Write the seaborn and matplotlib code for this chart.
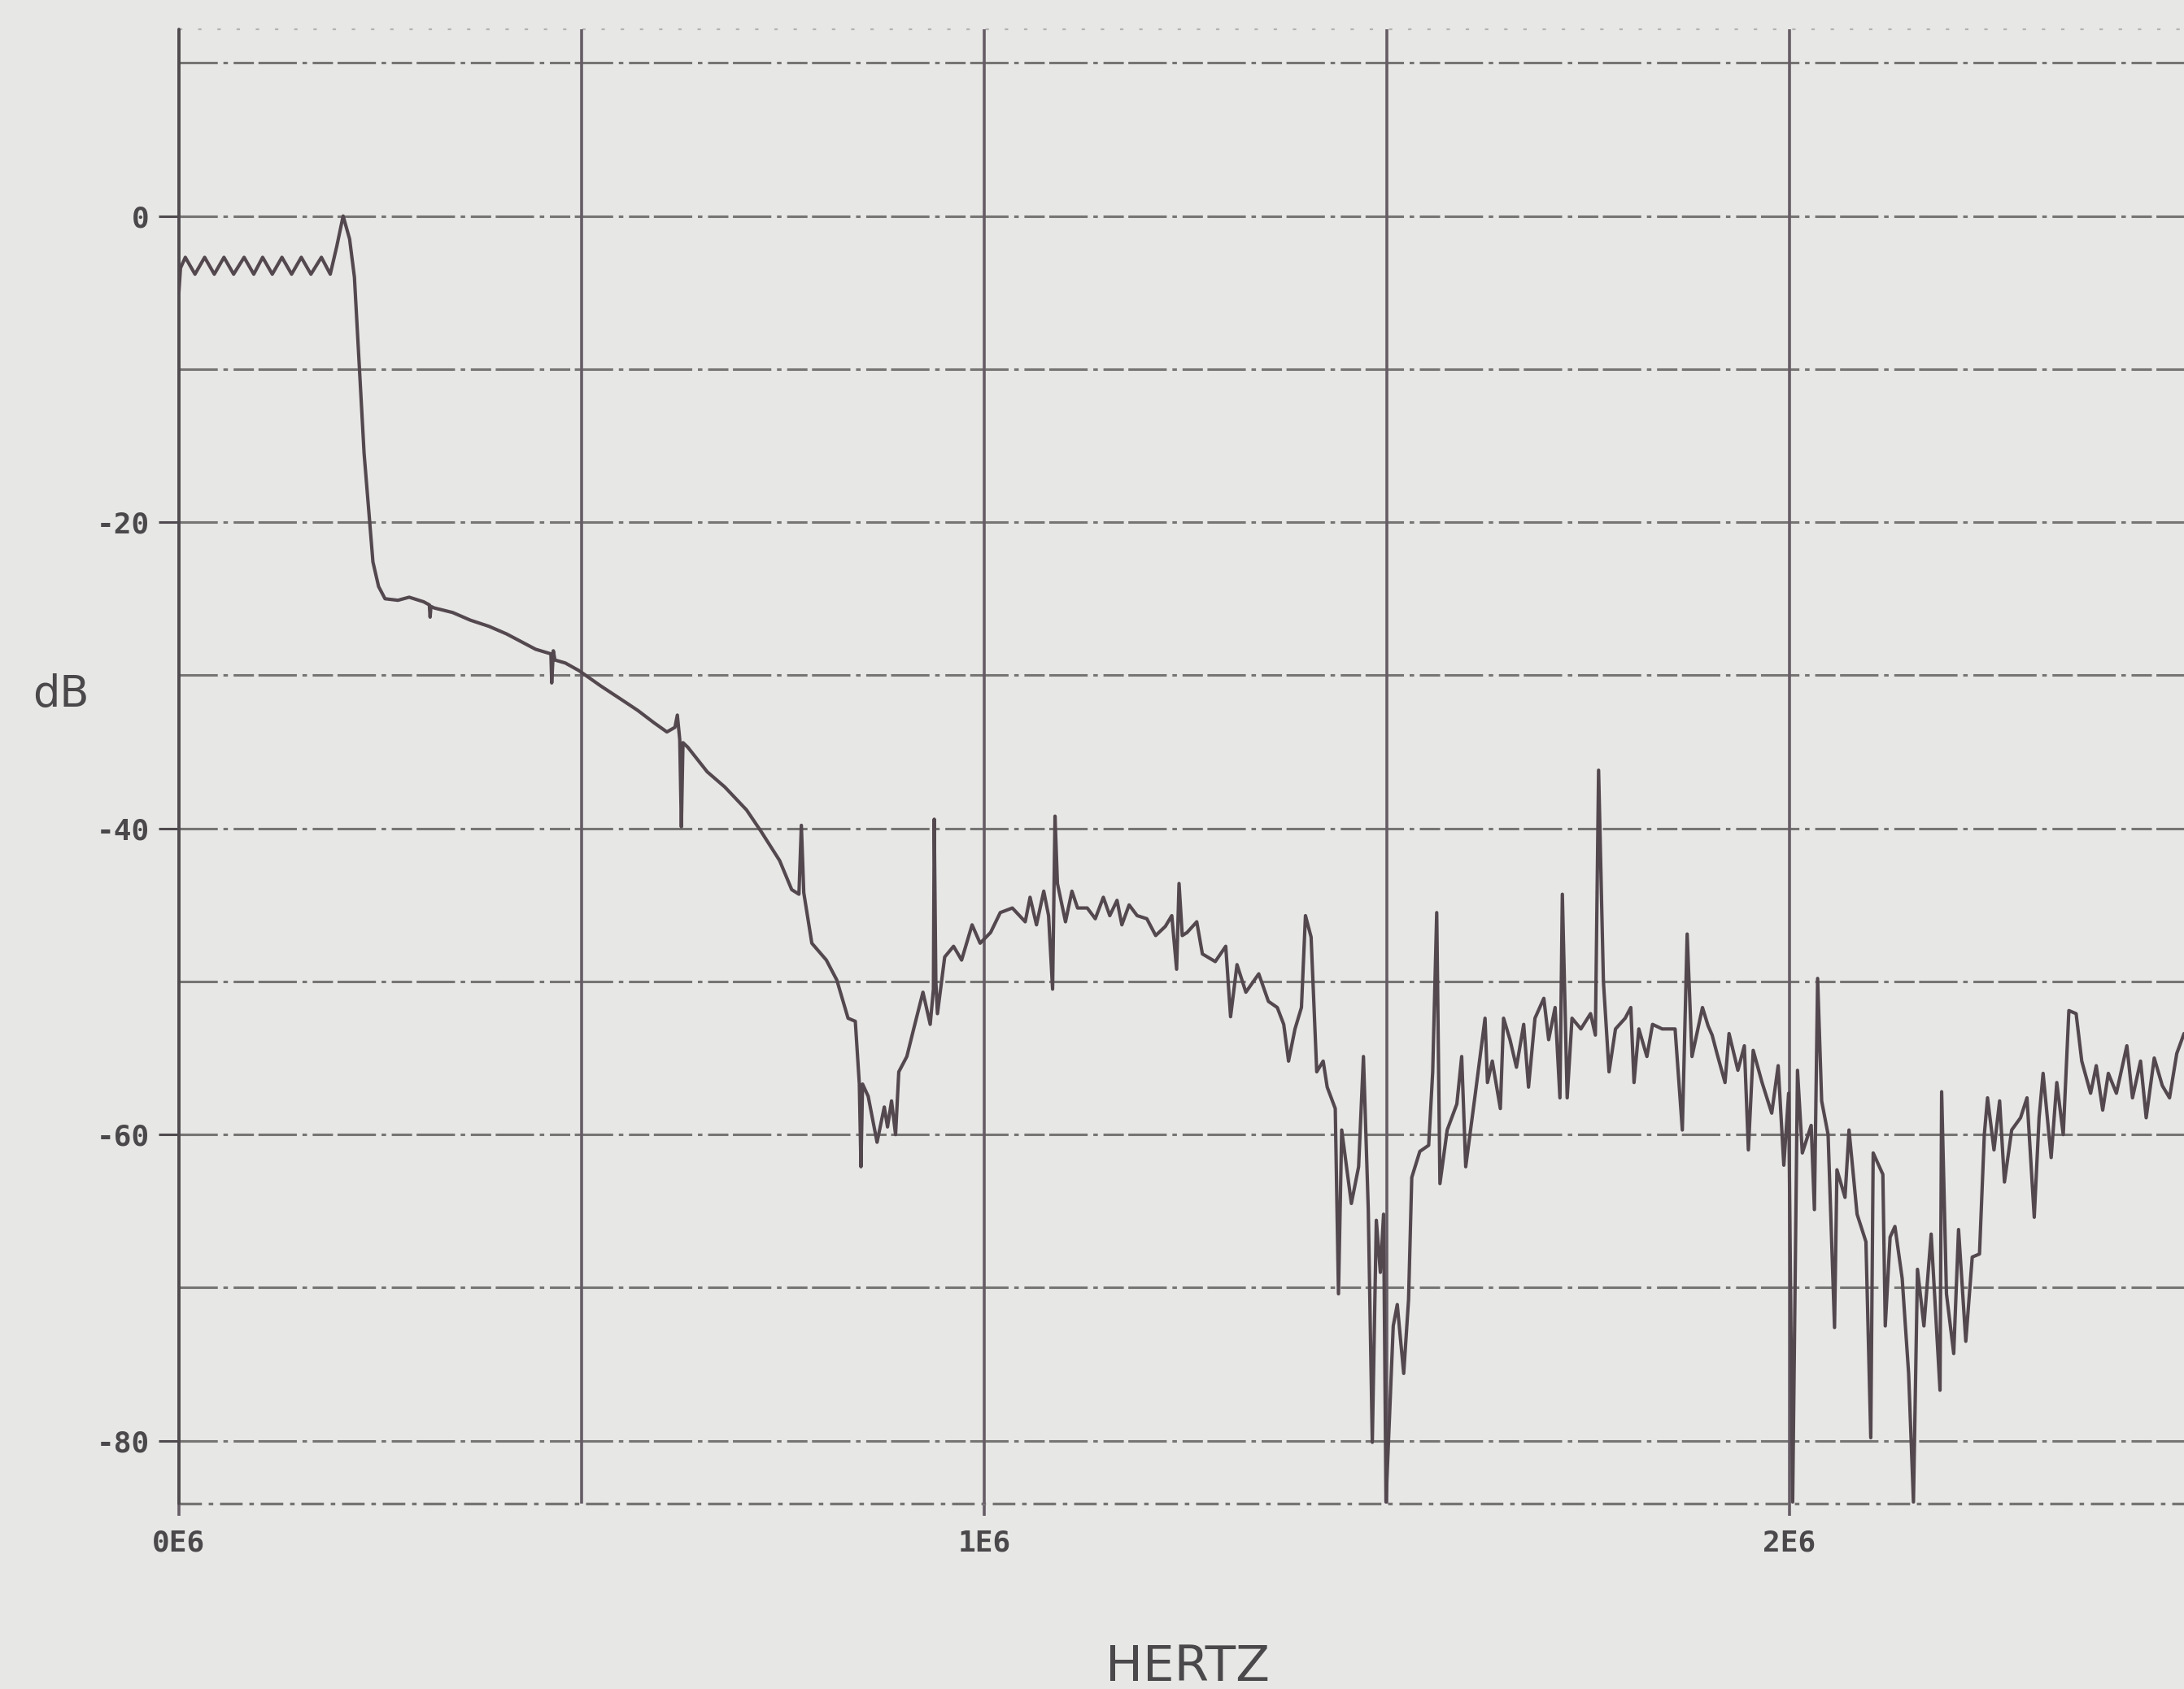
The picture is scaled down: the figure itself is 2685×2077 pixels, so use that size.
"""
Filter response plot: level in dB against frequency (HERTZ), old plotter look.
"""
import matplotlib
matplotlib.use("Agg")
import matplotlib.pyplot as plt
import numpy as np
import pandas as pd
import seaborn as sns

# ---- data: frequency in MHz (0E6..2E6), level in dB ----
PASSBAND_F = [0.000, 0.002, 0.008, 0.020, 0.032, 0.044, 0.056, 0.068, 0.081,
              0.093, 0.104, 0.116, 0.128, 0.140, 0.152, 0.164, 0.177, 0.188,
              0.196, 0.204, 0.212, 0.218, 0.225, 0.230, 0.237, 0.241, 0.248,
              0.256, 0.272]
PASSBAND_DB = [-5.0, -3.4, -2.7, -3.8, -2.7, -3.8, -2.7, -3.8, -2.7,
               -3.8, -2.7, -3.8, -2.7, -3.8, -2.7, -3.8, -2.7, -3.8,
               -2.0, 0.0, -1.5, -4.0, -10.7, -15.5, -20.0, -22.6, -24.2,
               -25.0, -25.1]

SKIRT_F = [0.286, 0.304, 0.311, 0.312, 0.313, 0.317, 0.340, 0.362, 0.385,
           0.407, 0.425, 0.443, 0.462, 0.463, 0.465, 0.467, 0.480, 0.497,
           0.524, 0.550, 0.570, 0.590, 0.606, 0.616, 0.619, 0.622, 0.624,
           0.626, 0.632, 0.656, 0.678, 0.705, 0.723, 0.746, 0.761, 0.770,
           0.773, 0.776, 0.786, 0.804, 0.817, 0.831, 0.840, 0.845, 0.847,
           0.849, 0.856, 0.867, 0.876, 0.880, 0.885, 0.890, 0.894]
SKIRT_DB = [-24.9, -25.2, -25.4, -26.2, -25.5, -25.6, -25.9, -26.4, -26.8,
            -27.3, -27.8, -28.3, -28.6, -30.5, -28.4, -29.0, -29.2, -29.7,
            -30.7, -31.6, -32.3, -33.1, -33.7, -33.4, -32.6, -34.2, -39.9,
            -34.4, -34.7, -36.3, -37.3, -38.8, -40.2, -42.1, -44.0, -44.3,
            -39.8, -44.2, -47.5, -48.6, -49.9, -52.4, -52.6, -56.7, -62.1,
            -56.7, -57.5, -60.5, -58.2, -59.5, -57.8, -60.0, -55.9]

LOBE1_F = [0.904, 0.912, 0.924, 0.933, 0.937, 0.938, 0.940, 0.942, 0.951,
           0.962, 0.972, 0.985, 0.995, 1.008, 1.020, 1.035, 1.051, 1.057,
           1.065, 1.074, 1.080, 1.085, 1.088, 1.091, 1.101, 1.109, 1.116,
           1.128, 1.138, 1.148, 1.156, 1.165, 1.171, 1.180, 1.190, 1.202,
           1.213, 1.225, 1.233, 1.239, 1.242, 1.246, 1.252, 1.264, 1.271,
           1.287, 1.300, 1.306, 1.314, 1.325, 1.341, 1.353, 1.364, 1.372,
           1.378, 1.386, 1.394, 1.399, 1.406, 1.413, 1.421, 1.426, 1.436]
LOBE1_DB = [-54.9, -53.2, -50.7, -52.8, -50.5, -39.4, -50.0, -52.1, -48.4,
            -47.7, -48.6, -46.3, -47.5, -46.8, -45.5, -45.2, -46.1, -44.5,
            -46.3, -44.1, -45.7, -50.5, -39.2, -43.6, -46.1, -44.1, -45.2,
            -45.2, -45.9, -44.5, -45.7, -44.7, -46.3, -45.0, -45.7, -45.9,
            -47.0, -46.4, -45.7, -49.2, -43.6, -47.0, -46.8, -46.1, -48.2,
            -48.7, -47.7, -52.3, -48.9, -50.7, -49.5, -51.3, -51.7, -52.8,
            -55.2, -53.1, -51.7, -45.7, -47.1, -55.9, -55.2, -56.9, -58.3]

LOBE2_F = [1.440, 1.444, 1.456, 1.465, 1.471, 1.477, 1.482, 1.487, 1.492,
           1.496, 1.499, 1.508, 1.513, 1.521, 1.527, 1.531, 1.541, 1.552,
           1.557, 1.562, 1.566, 1.575, 1.587, 1.593, 1.598, 1.610, 1.622,
           1.625, 1.631, 1.641, 1.645, 1.653, 1.661, 1.670, 1.676, 1.684,
           1.695, 1.701, 1.709, 1.715, 1.718, 1.724, 1.730, 1.741, 1.753,
           1.759, 1.763, 1.769, 1.776, 1.784, 1.796, 1.803, 1.807, 1.813,
           1.823, 1.830, 1.842, 1.858, 1.867, 1.873, 1.879, 1.892, 1.899,
           1.904, 1.910, 1.920, 1.925, 1.936, 1.944, 1.949, 1.955, 1.966,
           1.978, 1.986, 1.993, 1.999]
LOBE2_DB = [-70.4, -59.7, -64.5, -62.1, -54.9, -64.9, -80.1, -65.6, -69.0,
            -65.2, -84.0, -72.5, -71.1, -75.6, -70.8, -62.8, -61.1, -60.7,
            -55.9, -45.5, -63.2, -59.7, -58.0, -54.9, -62.1, -57.3, -52.4,
            -56.6, -55.2, -58.3, -52.4, -53.8, -55.6, -52.8, -56.9, -52.4,
            -51.1, -53.8, -51.7, -57.6, -44.3, -57.6, -52.4, -53.1, -52.1,
            -53.5, -36.2, -50.0, -55.9, -53.1, -52.4, -51.7, -56.6, -53.1,
            -54.9, -52.8, -53.1, -53.1, -59.7, -46.9, -54.9, -51.7, -52.9,
            -53.5, -54.7, -56.6, -53.4, -55.8, -54.2, -61.0, -54.5, -56.6,
            -58.6, -55.5, -62.0, -57.3]

LOBE3_F = [2.004, 2.010, 2.016, 2.027, 2.031, 2.035, 2.040, 2.048, 2.056,
           2.059, 2.069, 2.074, 2.084, 2.095, 2.101, 2.104, 2.116, 2.119,
           2.125, 2.131, 2.140, 2.148, 2.154, 2.159, 2.167, 2.176, 2.187,
           2.189, 2.195, 2.204, 2.210, 2.219, 2.227, 2.236, 2.242, 2.246,
           2.254, 2.261, 2.267, 2.276, 2.287, 2.295, 2.304, 2.310, 2.315,
           2.325, 2.332, 2.340, 2.347, 2.356, 2.363, 2.374, 2.381, 2.389,
           2.396, 2.406, 2.419, 2.426, 2.436, 2.443, 2.453, 2.463, 2.472,
           2.481, 2.490, 2.500]
LOBE3_DB = [-84.0, -55.8, -61.2, -59.4, -64.9, -49.8, -57.8, -60.0, -72.6,
            -62.3, -64.1, -59.7, -65.2, -67.0, -79.8, -61.2, -62.6, -72.5,
            -66.7, -66.0, -69.4, -75.6, -84.0, -68.8, -72.5, -66.5, -76.7,
            -57.2, -70.4, -74.3, -66.2, -73.5, -68.0, -67.8, -60.0, -57.6,
            -61.0, -57.8, -63.1, -59.7, -58.9, -57.6, -65.4, -58.9, -56.0,
            -61.5, -56.6, -60.0, -51.9, -52.1, -55.2, -57.3, -55.5, -58.4,
            -56.0, -57.3, -54.2, -57.6, -55.2, -58.9, -55.0, -56.8, -57.6,
            -54.7, -53.4, -54.0]

Y_TICKS = [-80, -60, -40, -20, 0]
Y_TICK_LABELS = ["-80", "-60", "-40", "-20", "0"]
X_TICKS = [0, 1, 2]
X_TICK_LABELS = ["0E6", "1E6", "2E6"]

BG = "#e7e7e5"
CURVE = "#54484f"
VGRID = "#665c66"
HGRID = "#767574"
TXT = "#4a484a"

sns.set_theme(style="white")
plt.rcParams["font.family"] = ["DejaVu Sans"]
plt.rcParams["lines.scale_dashes"] = False

df = pd.DataFrame({
    "freq": PASSBAND_F + SKIRT_F + LOBE1_F + LOBE2_F + LOBE3_F,
    "db": PASSBAND_DB + SKIRT_DB + LOBE1_DB + LOBE2_DB + LOBE3_DB,
})

fig = plt.figure(figsize=(26.85, 20.77), dpi=100, facecolor=BG)
ax = fig.add_axes([0.0819, 0.1098, 0.9218, 0.8729])
ax.set_facecolor(BG)
ax.set_xlim(0, 2.5)
ax.set_ylim(-84.1, 12.2)
for s in ax.spines.values():
    s.set_visible(False)

# plotter grid: broken dash-dot horizontals, solid verticals
dashdot = (0, (34, 5, 4, 5, 18, 4))
for y in np.arange(-80, 11, 10):
    ax.axhline(y, color=HGRID, lw=2.2, ls=dashdot, zorder=1)
ax.axhline(-84.1, color=HGRID, lw=2.4, ls=(0, (20, 6, 4, 6)), zorder=1,
           clip_on=False)
ax.axhline(12.2, color="#b4b3b2", lw=1.6, ls=(0, (3, 14)), zorder=1,
           clip_on=False)
for x in np.arange(0.5, 2.6, 0.5):
    ax.axvline(x, color=VGRID, lw=2.6, zorder=1)
ax.axvline(0, color="#4f4a4e", lw=2.8, zorder=2, clip_on=False)

sns.lineplot(data=df, x="freq", y="db", estimator=None, sort=False,
             color=CURVE, lw=3.0, ax=ax, zorder=3)

mono = ["DejaVu Sans Mono", "DejaVu Sans"]
ax.set_yticks(Y_TICKS, Y_TICK_LABELS)
ax.set_xticks(X_TICKS, X_TICK_LABELS)
ax.tick_params(axis="y", direction="inout", length=36, width=2.2,
               color="#4f4a4e", pad=8, labelsize=26, labelcolor=TXT, left=True)
ax.tick_params(axis="x", direction="out", length=11, width=2.6,
               color=VGRID, pad=12, labelsize=26, labelcolor=TXT, bottom=True)
for lab in ax.get_xticklabels() + ax.get_yticklabels():
    lab.set_family(mono)
    lab.set_fontweight("bold")

ax.set_xlabel("HERTZ", fontsize=44, color=TXT, family=["DejaVu Sans"])
ax.set_ylabel("dB", fontsize=38, color=TXT, rotation=0,
              family=["DejaVu Sans"])
ax.xaxis.set_label_coords(0.501, -0.1114)
ax.yaxis.set_label_coords(-0.0586, 0.549)
ax.xaxis.label.set_va("center")
ax.yaxis.label.set_va("center")

fig.savefig("out.png", dpi=100, facecolor=BG)
